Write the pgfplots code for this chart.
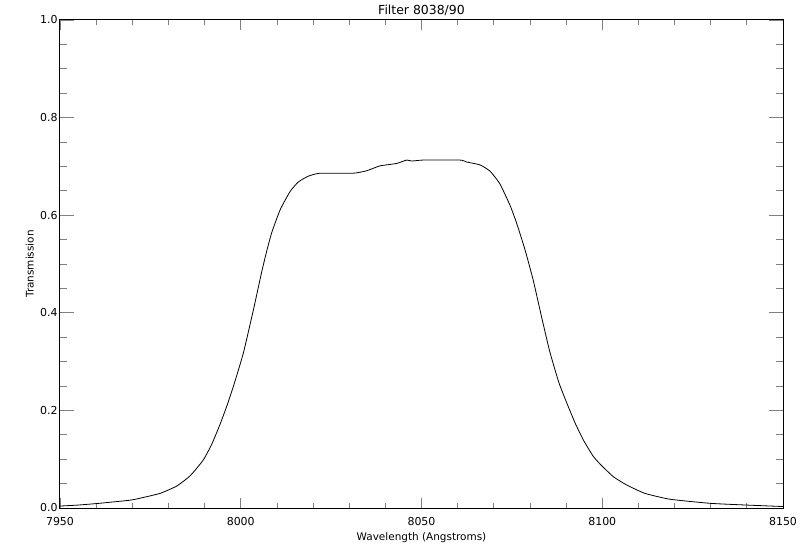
\documentclass[border=0pt]{standalone}
\usepackage{fontspec}
\setmainfont{DejaVu Sans}
\usepackage{pgfplots}
\pgfplotsset{compat=1.18}
\begin{document}
\begin{tikzpicture}
\useasboundingbox (-60bp,-42bp) rectangle (740bp,508bp);
\begin{axis}[
  at={(0,0)}, anchor=south west,
  scale only axis, width=723bp, height=488bp,
  xmin=7950, xmax=8150, ymin=0, ymax=1,
  xtick={7950,8000,8050,8100,8150},
  ytick={0,0.2,0.4,0.6,0.8,1.0},
  minor x tick num=4, minor y tick num=3,
  tick align=inside,
  xtick style={/pgfplots/major tick length=10bp,/pgfplots/minor tick length=5.5bp,line width=0.8bp},
  ytick style={/pgfplots/major tick length=14.5bp,/pgfplots/minor tick length=7bp,line width=0.8bp},
  axis line style={line width=1bp},
  /pgf/number format/assume math mode=true,
  xticklabel style={/pgf/number format/set thousands separator={}, font=\fontsize{11}{13}\selectfont, yshift=-6bp},
  yticklabel style={/pgf/number format/fixed, /pgf/number format/fixed zerofill, /pgf/number format/precision=1, font=\fontsize{11}{13}\selectfont, xshift=1bp},
  xlabel={Wavelength (Angstroms)},
  ylabel={Transmission},
  xlabel style={font=\fontsize{10.5}{12}\selectfont, yshift=0bp},
  ylabel style={font=\fontsize{10.5}{12}\selectfont, yshift=-0.5bp},
  title={Filter 8038/90},
  title style={font=\fontsize{12.5}{14}\selectfont, yshift=-5bp},
]
\addplot[black, line width=0.8bp, smooth, tension=0.3] coordinates {
(7950,0.004) (7955,0.006) (7961,0.0097) (7969.4,0.016) (7972.1,0.020)
(7977.7,0.030) (7982.3,0.045) (7986,0.066) (7989.6,0.098) (7992,0.131)
(7994.3,0.172) (7996.1,0.208) (7998,0.250) (8000.7,0.317) (8003.5,0.406)
(8005.8,0.484) (8007.2,0.527) (8008.6,0.565) (8010.9,0.611) (8013.6,0.648)
(8015.9,0.668) (8018.7,0.680) (8021.9,0.686) (8031.1,0.686) (8034.8,0.691)
(8038.5,0.701) (8043.1,0.706) (8045.9,0.713) (8047.3,0.711) (8050.5,0.713)
(8060.6,0.713) (8062.5,0.709) (8066.2,0.703) (8069,0.690) (8071.7,0.664)
(8074.5,0.620) (8076.3,0.584) (8078.6,0.530) (8080.9,0.467) (8083.2,0.392)
(8085.5,0.320) (8088,0.257) (8090.2,0.215) (8092.5,0.174) (8094.8,0.139)
(8097.5,0.106) (8099.8,0.087) (8103.1,0.064) (8106.8,0.047) (8111.8,0.030)
(8118.7,0.018) (8129.8,0.0096) (8140,0.006) (8150,0.003)
};
\end{axis}
\end{tikzpicture}
\end{document}
